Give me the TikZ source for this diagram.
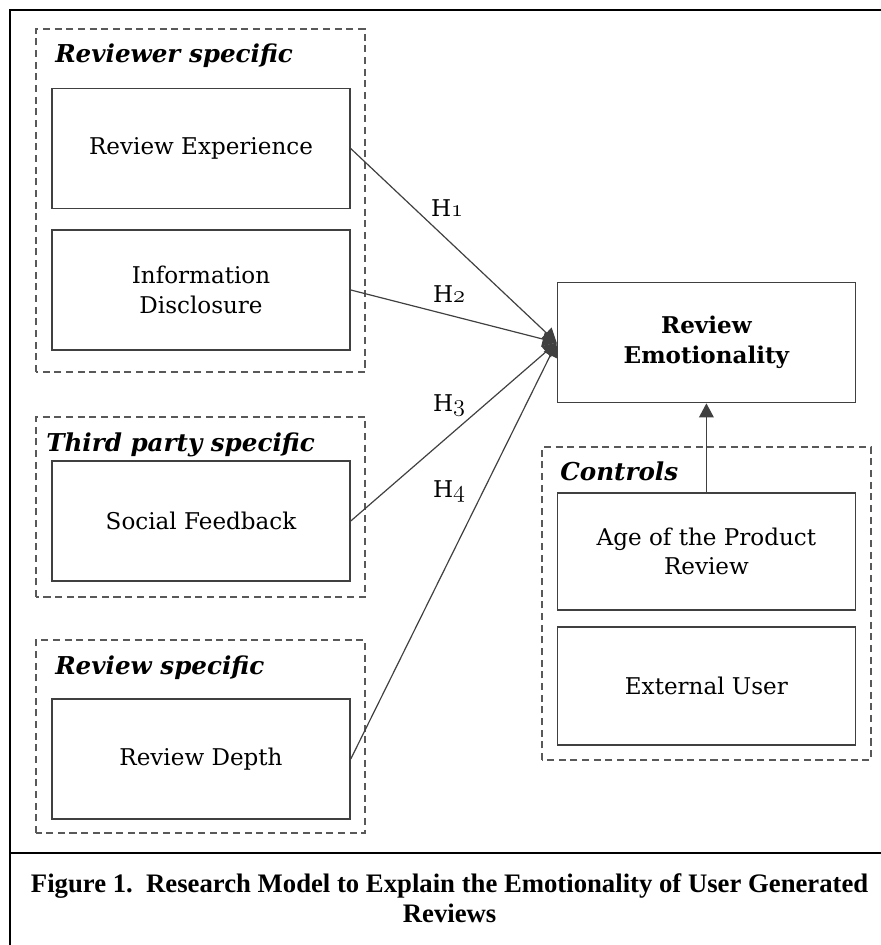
\documentclass[tikz,border=0pt]{standalone}
\usepackage{fontspec}
\setmainfont{DejaVu Serif}
\newfontfamily\captionfont{Liberation Serif}
\usetikzlibrary{arrows.meta}
\newcommand{\hyp}[1]{H$\mathnormal{#1}$}
\begin{document}
\begin{tikzpicture}[
    font=\fontsize{16.4}{21.3}\selectfont,
    var/.style={draw=black!75,line width=1.1pt,minimum width=7.45cm,minimum height=3cm,align=center,inner sep=0pt},
    group/.style={draw=black!65,line width=0.9pt,dash pattern=on 5pt off 3.3pt},
    grouptitle/.style={anchor=base west,inner sep=0pt,font=\fontsize{17.5}{21.3}\selectfont\bfseries\itshape},
    hlabel/.style={anchor=base,inner sep=0pt},
    link/.style={draw=black!75,line width=0.85pt,-{Triangle[length=10pt,width=10.5pt]}}
  ]
  \useasboundingbox (0,0) rectangle (22,23.625);
  % frame and caption
  \draw[line width=1.8pt] (0.25,-0.5)--(0.25,23.375)--(22.5,23.375);
  \draw[line width=1.8pt] (0.25,2.3)--(22.5,2.3);
  \node[anchor=north,align=center,inner sep=0pt,font=\captionfont\bfseries\fontsize{19}{21.3}\selectfont] (caption) at (11.24,1.78)
    {Figure 1.\ \ Research Model to Explain the Emotionality of User Generated\\Reviews};
  % dashed groups
  \draw[group] (0.9,14.325) rectangle (9.125,22.9);
  \draw[group] (0.9,8.7) rectangle (9.125,13.2);
  \draw[group] (0.9,2.8) rectangle (9.125,7.625);
  \draw[group] (13.55,4.625) rectangle (21.775,12.45);
  \node[grouptitle] (reviewer) at (1.375,22.05) {Reviewer specific};
  \node[grouptitle] (thirdparty) at (1.15,12.325) {Third party specific};
  \node[grouptitle] (reviewspec) at (1.375,6.75) {Review specific};
  \node[grouptitle] (controls) at (14.0,11.6) {Controls};
  % variables
  \node[var] (revexp) at (5.025,19.91) {Review Experience};
  \node[var] (infodisc) at (5.025,16.375) {Information\\Disclosure};
  \node[var] (social) at (5.025,10.6) {Social Feedback};
  \node[var] (depth) at (5.025,4.65) {Review Depth};
  \node[var,font=\fontsize{16.4}{21.3}\selectfont\bfseries] (emo) at (17.66,15.06) {Review\\Emotionality};
  \node[var,minimum height=2.93cm] (age) at (17.66,9.84) {Age of the Product\\Review};
  \node[var,minimum height=2.95cm] (extuser) at (17.66,6.475) {External User};
  % hypotheses
  \draw[link] (revexp.east) -- (emo.west);
  \draw[link] (infodisc.east) -- (emo.west);
  \draw[link] (social.east) -- (emo.west);
  \draw[link] (depth.east) -- (emo.west);
  \draw[link] (age.north) -- (emo.south);
  \node[hlabel] (h1) at (11.175,18.2) {\hyp{1}};
  \node[hlabel] (h2) at (11.225,16.05) {\hyp{2}};
  \node[hlabel] (h3) at (11.225,13.325) {\hyp{3}};
  \node[hlabel] (h4) at (11.225,11.175) {\hyp{4}};
\end{tikzpicture}
\end{document}
